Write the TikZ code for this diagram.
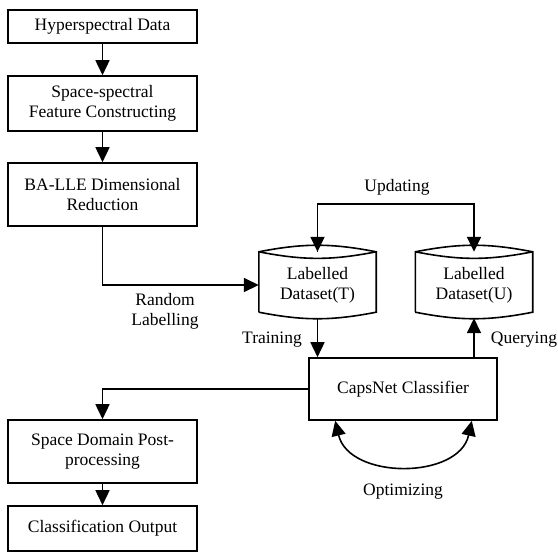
\documentclass[tikz,border=0pt]{standalone}
\usepackage{fontspec}
\setmainfont{Liberation Serif}
\usetikzlibrary{arrows.meta, positioning, calc}

% outline of a stored-data node
\newcommand{\dbshape}[1]{%
  \draw[line width=1.6pt] ([yshift=6pt]#1.south west) -- (#1.north west)
    to[bend left=11] (#1.north east) -- ([yshift=6pt]#1.south east)
    to[bend left=11] ([yshift=6pt]#1.south west);
  \draw[line width=1.6pt] (#1.north west) to[bend right=11] (#1.north east);}

\begin{document}
\begin{tikzpicture}[
  x=1pt, y=1pt,
  every node/.style={font=\fontsize{17.5}{20}\selectfont},
  box/.style={rectangle, draw, line width=1.6pt, minimum width=189pt,
              align=center, inner sep=2pt},
  dbase/.style={rectangle, minimum width=117pt, minimum height=66pt,
                align=center},
  arrow/.style={-{Triangle[length=15pt,width=14pt]}, line width=1.6pt},
  lbl/.style={align=center}
]
\useasboundingbox (0,0) rectangle (558,-554);

% left column
\node[box, minimum height=33pt] (data)    at (102.5,-26.5)  {Hyperspectral Data};
\node[box, minimum height=55pt] (feature) at (102.5,-103.5) {Space-spectral\\Feature Constructing};
\node[box, minimum height=63pt] (reduce)  at (102.5,-194.5) {BA-LLE Dimensional\\Reduction};
\node[box, minimum height=63pt] (post)    at (102.5,-451.5) {Space Domain Post-\\processing};
\node[box, minimum height=45pt] (output)  at (102.5,-528.5) {Classification Output};

% classifier and data sets
\node[box, minimum width=188pt, minimum height=62pt] (caps) at (403,-389) {CapsNet Classifier};
\node[dbase] (setT) at (317.5,-285) {Labelled\\Dataset(T)};
\node[dbase] (setU) at (474,-285)   {Labelled\\Dataset(U)};
\dbshape{setT}
\dbshape{setU}

% arrows
\draw[arrow] (data) -- (feature);
\draw[arrow] (feature) -- (reduce);
\draw[arrow] (reduce.south) |- (setT.west);
\draw[arrow] (setT.south) -- (setT.south |- caps.north);
\draw[arrow] (setU.south |- caps.north) -- (setU.south);
\draw[arrow] (setT.north) -- ++(0,48) coordinate (up) -| (setU.north);
\draw[arrow] (up) -- (setT.north);
\draw[arrow] (caps.west) -| (post.north);
\draw[arrow] (post) -- (output);
\draw[{Triangle[length=15pt,width=14pt]}-{Triangle[length=15pt,width=14pt]}, line width=1.6pt]
  ([xshift=27pt]caps.south west) .. controls ++(14,-59) and ++(-13,-59) .. ([xshift=-26pt]caps.south east);

% labels
\node[lbl] (lrand)  at (165,-311) {Random\\Labelling};
\node[lbl] (lupd)   at (397,-187) {Updating};
\node[lbl] (ltrain) at (272,-340) {Training};
\node[lbl] (lquery) at (524,-340) {Querying};
\node[lbl] (lopt)   at (403,-492) {Optimizing};

\end{tikzpicture}
\end{document}
